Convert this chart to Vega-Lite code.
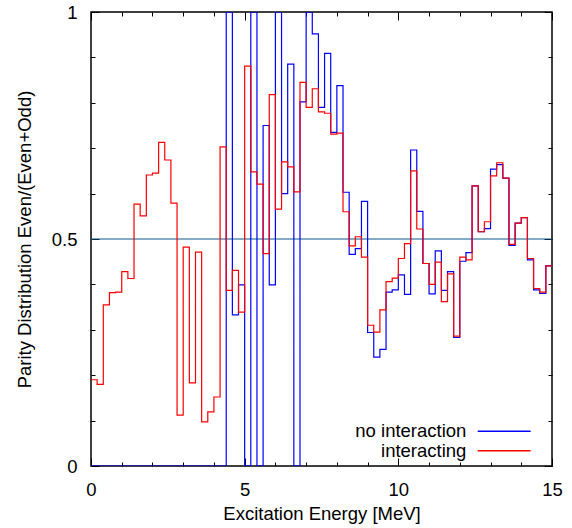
{
  "$schema": "https://vega.github.io/schema/vega-lite/v6.json",
  "width": 461,
  "height": 454,
  "autosize": "none",
  "padding": {"left": 91, "top": 12, "right": 20, "bottom": 62},
  "config": {
    "view": {"stroke": "black", "strokeWidth": 1.5},
    "font": "Liberation Sans",
    "axis": {"domain": false, "grid": false, "labelFlush": false, "tickColor": "black", "tickWidth": 1, "labelColor": "black", "labelFontSize": 18.5, "titleFontSize": 18.5, "titleFontWeight": "normal", "titleColor": "black", "labelFont": "Liberation Sans", "titleFont": "Liberation Sans"}
  },
  "datasets": {
    "series": [
      {"e": 0.0, "p": 0, "s": "no interaction"},
      {"e": 0.2, "p": 0, "s": "no interaction"},
      {"e": 0.4, "p": 0, "s": "no interaction"},
      {"e": 0.6, "p": 0, "s": "no interaction"},
      {"e": 0.8, "p": 0, "s": "no interaction"},
      {"e": 1.0, "p": 0, "s": "no interaction"},
      {"e": 1.2, "p": 0, "s": "no interaction"},
      {"e": 1.4, "p": 0, "s": "no interaction"},
      {"e": 1.6, "p": 0, "s": "no interaction"},
      {"e": 1.8, "p": 0, "s": "no interaction"},
      {"e": 2.0, "p": 0, "s": "no interaction"},
      {"e": 2.2, "p": 0, "s": "no interaction"},
      {"e": 2.4, "p": 0, "s": "no interaction"},
      {"e": 2.6, "p": 0, "s": "no interaction"},
      {"e": 2.8, "p": 0, "s": "no interaction"},
      {"e": 3.0, "p": 0, "s": "no interaction"},
      {"e": 3.2, "p": 0, "s": "no interaction"},
      {"e": 3.4, "p": 0, "s": "no interaction"},
      {"e": 3.6, "p": 0, "s": "no interaction"},
      {"e": 3.8, "p": 0, "s": "no interaction"},
      {"e": 4.0, "p": 0, "s": "no interaction"},
      {"e": 4.2, "p": 0, "s": "no interaction"},
      {"e": 4.4, "p": 1, "s": "no interaction"},
      {"e": 4.6, "p": 0.333, "s": "no interaction"},
      {"e": 4.8, "p": 0.399, "s": "no interaction"},
      {"e": 5.0, "p": 0, "s": "no interaction"},
      {"e": 5.2, "p": 1, "s": "no interaction"},
      {"e": 5.4, "p": 0, "s": "no interaction"},
      {"e": 5.6, "p": 0.75, "s": "no interaction"},
      {"e": 5.8, "p": 0.399, "s": "no interaction"},
      {"e": 6.0, "p": 1, "s": "no interaction"},
      {"e": 6.2, "p": 0.6, "s": "no interaction"},
      {"e": 6.4, "p": 0.885, "s": "no interaction"},
      {"e": 6.6, "p": 0, "s": "no interaction"},
      {"e": 6.8, "p": 0.802, "s": "no interaction"},
      {"e": 7.0, "p": 1, "s": "no interaction"},
      {"e": 7.2, "p": 0.952, "s": "no interaction"},
      {"e": 7.4, "p": 0.79, "s": "no interaction"},
      {"e": 7.6, "p": 0.909, "s": "no interaction"},
      {"e": 7.8, "p": 0.735, "s": "no interaction"},
      {"e": 8.0, "p": 0.838, "s": "no interaction"},
      {"e": 8.2, "p": 0.603, "s": "no interaction"},
      {"e": 8.4, "p": 0.466, "s": "no interaction"},
      {"e": 8.6, "p": 0.479, "s": "no interaction"},
      {"e": 8.8, "p": 0.583, "s": "no interaction"},
      {"e": 9.0, "p": 0.294, "s": "no interaction"},
      {"e": 9.2, "p": 0.24, "s": "no interaction"},
      {"e": 9.4, "p": 0.257, "s": "no interaction"},
      {"e": 9.6, "p": 0.383, "s": "no interaction"},
      {"e": 9.8, "p": 0.388, "s": "no interaction"},
      {"e": 10.0, "p": 0.421, "s": "no interaction"},
      {"e": 10.2, "p": 0.378, "s": "no interaction"},
      {"e": 10.4, "p": 0.696, "s": "no interaction"},
      {"e": 10.6, "p": 0.561, "s": "no interaction"},
      {"e": 10.8, "p": 0.446, "s": "no interaction"},
      {"e": 11.0, "p": 0.379, "s": "no interaction"},
      {"e": 11.2, "p": 0.474, "s": "no interaction"},
      {"e": 11.4, "p": 0.387, "s": "no interaction"},
      {"e": 11.6, "p": 0.428, "s": "no interaction"},
      {"e": 11.8, "p": 0.283, "s": "no interaction"},
      {"e": 12.0, "p": 0.451, "s": "no interaction"},
      {"e": 12.2, "p": 0.47, "s": "no interaction"},
      {"e": 12.4, "p": 0.617, "s": "no interaction"},
      {"e": 12.6, "p": 0.516, "s": "no interaction"},
      {"e": 12.8, "p": 0.523, "s": "no interaction"},
      {"e": 13.0, "p": 0.654, "s": "no interaction"},
      {"e": 13.2, "p": 0.664, "s": "no interaction"},
      {"e": 13.4, "p": 0.634, "s": "no interaction"},
      {"e": 13.6, "p": 0.486, "s": "no interaction"},
      {"e": 13.8, "p": 0.535, "s": "no interaction"},
      {"e": 14.0, "p": 0.547, "s": "no interaction"},
      {"e": 14.2, "p": 0.454, "s": "no interaction"},
      {"e": 14.4, "p": 0.388, "s": "no interaction"},
      {"e": 14.6, "p": 0.38, "s": "no interaction"},
      {"e": 14.8, "p": 0.441, "s": "no interaction"},
      {"e": 15.0, "p": 0.441, "s": "no interaction"},
      {"e": 0.0, "p": 0.19, "s": "interacting"},
      {"e": 0.2, "p": 0.18, "s": "interacting"},
      {"e": 0.4, "p": 0.355, "s": "interacting"},
      {"e": 0.6, "p": 0.382, "s": "interacting"},
      {"e": 0.8, "p": 0.383, "s": "interacting"},
      {"e": 1.0, "p": 0.428, "s": "interacting"},
      {"e": 1.2, "p": 0.413, "s": "interacting"},
      {"e": 1.4, "p": 0.577, "s": "interacting"},
      {"e": 1.6, "p": 0.551, "s": "interacting"},
      {"e": 1.8, "p": 0.641, "s": "interacting"},
      {"e": 2.0, "p": 0.645, "s": "interacting"},
      {"e": 2.2, "p": 0.713, "s": "interacting"},
      {"e": 2.4, "p": 0.674, "s": "interacting"},
      {"e": 2.6, "p": 0.579, "s": "interacting"},
      {"e": 2.8, "p": 0.112, "s": "interacting"},
      {"e": 3.0, "p": 0.482, "s": "interacting"},
      {"e": 3.2, "p": 0.183, "s": "interacting"},
      {"e": 3.4, "p": 0.471, "s": "interacting"},
      {"e": 3.6, "p": 0.097, "s": "interacting"},
      {"e": 3.8, "p": 0.119, "s": "interacting"},
      {"e": 4.0, "p": 0.152, "s": "interacting"},
      {"e": 4.2, "p": 0.703, "s": "interacting"},
      {"e": 4.4, "p": 0.387, "s": "interacting"},
      {"e": 4.6, "p": 0.431, "s": "interacting"},
      {"e": 4.8, "p": 0.339, "s": "interacting"},
      {"e": 5.0, "p": 0.881, "s": "interacting"},
      {"e": 5.2, "p": 0.648, "s": "interacting"},
      {"e": 5.4, "p": 0.621, "s": "interacting"},
      {"e": 5.6, "p": 0.468, "s": "interacting"},
      {"e": 5.8, "p": 0.818, "s": "interacting"},
      {"e": 6.0, "p": 0.566, "s": "interacting"},
      {"e": 6.2, "p": 0.67, "s": "interacting"},
      {"e": 6.4, "p": 0.659, "s": "interacting"},
      {"e": 6.6, "p": 0.604, "s": "interacting"},
      {"e": 6.8, "p": 0.845, "s": "interacting"},
      {"e": 7.0, "p": 0.79, "s": "interacting"},
      {"e": 7.2, "p": 0.831, "s": "interacting"},
      {"e": 7.4, "p": 0.78, "s": "interacting"},
      {"e": 7.6, "p": 0.777, "s": "interacting"},
      {"e": 7.8, "p": 0.731, "s": "interacting"},
      {"e": 8.0, "p": 0.733, "s": "interacting"},
      {"e": 8.2, "p": 0.56, "s": "interacting"},
      {"e": 8.4, "p": 0.485, "s": "interacting"},
      {"e": 8.6, "p": 0.505, "s": "interacting"},
      {"e": 8.8, "p": 0.46, "s": "interacting"},
      {"e": 9.0, "p": 0.31, "s": "interacting"},
      {"e": 9.2, "p": 0.295, "s": "interacting"},
      {"e": 9.4, "p": 0.344, "s": "interacting"},
      {"e": 9.6, "p": 0.406, "s": "interacting"},
      {"e": 9.8, "p": 0.414, "s": "interacting"},
      {"e": 10.0, "p": 0.457, "s": "interacting"},
      {"e": 10.2, "p": 0.49, "s": "interacting"},
      {"e": 10.4, "p": 0.65, "s": "interacting"},
      {"e": 10.6, "p": 0.522, "s": "interacting"},
      {"e": 10.8, "p": 0.446, "s": "interacting"},
      {"e": 11.0, "p": 0.4, "s": "interacting"},
      {"e": 11.2, "p": 0.449, "s": "interacting"},
      {"e": 11.4, "p": 0.362, "s": "interacting"},
      {"e": 11.6, "p": 0.423, "s": "interacting"},
      {"e": 11.8, "p": 0.286, "s": "interacting"},
      {"e": 12.0, "p": 0.46, "s": "interacting"},
      {"e": 12.2, "p": 0.454, "s": "interacting"},
      {"e": 12.4, "p": 0.617, "s": "interacting"},
      {"e": 12.6, "p": 0.516, "s": "interacting"},
      {"e": 12.8, "p": 0.538, "s": "interacting"},
      {"e": 13.0, "p": 0.639, "s": "interacting"},
      {"e": 13.2, "p": 0.668, "s": "interacting"},
      {"e": 13.4, "p": 0.634, "s": "interacting"},
      {"e": 13.6, "p": 0.488, "s": "interacting"},
      {"e": 13.8, "p": 0.535, "s": "interacting"},
      {"e": 14.0, "p": 0.547, "s": "interacting"},
      {"e": 14.2, "p": 0.457, "s": "interacting"},
      {"e": 14.4, "p": 0.391, "s": "interacting"},
      {"e": 14.6, "p": 0.383, "s": "interacting"},
      {"e": 14.8, "p": 0.441, "s": "interacting"},
      {"e": 15.0, "p": 0.441, "s": "interacting"}
    ],
    "reference": [{"level": 0.5}]
  },
  "layer": [
    {
      "data": {"name": "reference"},
      "mark": {"type": "rule", "color": "#0d5a8f", "strokeWidth": 1.1},
      "encoding": {
        "y": {"field": "level", "type": "quantitative", "scale": {"domain": [0, 1], "nice": false}, "axis": null}
      }
    },
    {
      "data": {"name": "series"},
      "transform": [{"filter": "datum.s === 'no interaction'"}],
      "mark": {"type": "line", "interpolate": "step-after", "clip": true, "strokeWidth": 1.2},
      "encoding": {
        "x": {
          "field": "e", "type": "quantitative",
          "scale": {"domain": [0, 15], "nice": false, "zero": false},
          "axis": {
            "orient": "bottom",
            "values": [0, 1, 2, 3, 4, 5, 6, 7, 8, 9, 10, 11, 12, 13, 14, 15],
            "labelExpr": "datum.value % 5 === 0 ? datum.label : ''",
            "tickSize": {"condition": {"test": "datum.value % 5 === 0", "value": -8}, "value": -4},
            "labelPadding": 22,
            "title": "Excitation Energy [MeV]",
            "titlePadding": 6
          }
        },
        "y": {
          "field": "p", "type": "quantitative",
          "scale": {"domain": [0, 1], "nice": false},
          "axis": {
            "orient": "left",
            "values": [0, 0.1, 0.2, 0.3, 0.4, 0.5, 0.6, 0.7, 0.8, 0.9, 1],
            "format": "~g",
            "labelExpr": "datum.value === 0 || datum.value === 0.5 || datum.value === 1 ? datum.label : ''",
            "tickSize": {"condition": {"test": "datum.value === 0 || datum.value === 0.5 || datum.value === 1", "value": -8}, "value": -4},
            "labelPadding": 22,
            "title": "Parity Distribution Even/(Even+Odd)",
            "titlePadding": 17
          }
        },
        "color": {
          "field": "s", "type": "nominal",
          "scale": {"domain": ["no interaction", "interacting"], "range": ["#0000ff", "#ff0000"]},
          "legend": {
            "orient": "none", "legendX": 384, "legendY": 410, "title": null, "padding": 0,
            "symbolType": "M-4,0H4", "symbolSize": 175, "symbolStrokeWidth": 1.5, "symbolOffset": 19.9, "rowPadding": 0.5,
            "labelAlign": "right", "labelOffset": -47, "labelFontSize": 18.5, "labelFont": "Liberation Sans", "labelColor": "black"
          }
        }
      }
    },
    {
      "data": {"name": "series"},
      "transform": [{"filter": "datum.s === 'interacting'"}],
      "mark": {"type": "line", "interpolate": "step-after", "clip": true, "strokeWidth": 1.2},
      "encoding": {
        "x": {
          "field": "e", "type": "quantitative",
          "scale": {"domain": [0, 15], "nice": false, "zero": false},
          "axis": {
            "orient": "top",
            "values": [0, 1, 2, 3, 4, 5, 6, 7, 8, 9, 10, 11, 12, 13, 14, 15],
            "labels": false,
            "tickSize": {"condition": {"test": "datum.value % 5 === 0", "value": -8}, "value": -4},
            "title": null
          }
        },
        "y": {
          "field": "p", "type": "quantitative",
          "scale": {"domain": [0, 1], "nice": false},
          "axis": {
            "orient": "right",
            "values": [0, 0.1, 0.2, 0.3, 0.4, 0.5, 0.6, 0.7, 0.8, 0.9, 1],
            "labels": false,
            "tickSize": {"condition": {"test": "datum.value === 0 || datum.value === 0.5 || datum.value === 1", "value": -8}, "value": -4},
            "title": null
          }
        },
        "color": {
          "field": "s", "type": "nominal",
          "scale": {"domain": ["no interaction", "interacting"], "range": ["#0000ff", "#ff0000"]},
          "legend": {
            "orient": "none", "legendX": 384, "legendY": 410, "title": null, "padding": 0,
            "symbolType": "M-4,0H4", "symbolSize": 175, "symbolStrokeWidth": 1.5, "symbolOffset": 19.9, "rowPadding": 0.5,
            "labelAlign": "right", "labelOffset": -47, "labelFontSize": 18.5, "labelFont": "Liberation Sans", "labelColor": "black"
          }
        }
      }
    }
  ],
  "resolve": {"axis": {"x": "independent", "y": "independent"}}
}
